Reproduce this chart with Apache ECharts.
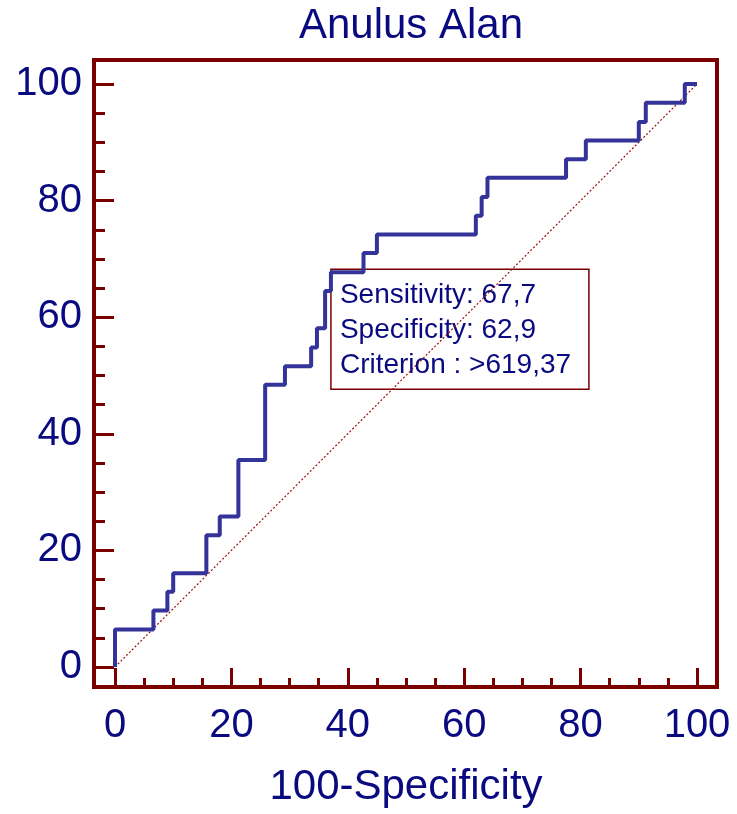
<!DOCTYPE html>
<html>
<head>
<meta charset="utf-8">
<script src="https://cdn.jsdelivr.net/npm/echarts@6/dist/echarts.min.js"></script>
<style>
html, body { margin: 0; padding: 0; background: #fff; }
#rocBox { width: 737px; height: 814px; }
</style>
</head>
<body>
<div id="rocBox"></div>
<script>
// ROC curve points (100-Specificity, Sensitivity), risers of each step
var fprData = [0, 0, 6.6, 9.0, 10.0, 15.7, 18.0, 21.2, 25.8, 29.2, 33.7, 34.7, 36.1, 37.1, 42.7, 45.0, 62.0, 63.0, 64.0, 77.5, 80.9, 90.0, 91.2, 97.9, 100];
var sensData = [0, 6.45, 9.68, 12.9, 16.1, 22.6, 25.8, 35.5, 48.4, 51.6, 54.8, 58.1, 64.5, 67.7, 71.0, 74.2, 77.4, 80.6, 83.9, 87.1, 90.3, 93.5, 96.8, 100, 100];
var refLine = [[0, 0], [100, 100]];
// optimal criterion
var critPoint = [37.1, 67.7];
var critText = ['Sensitivity: 67,7', 'Specificity: 62,9', 'Criterion : >619,37'];

var navy = '#0a0a80';
var maroon = '#7a0000';
var font = "'Liberation Sans', Arial, sans-serif";

var rocData = [];
for (var i = 0; i < fprData.length; i++) {
	rocData.push([fprData[i], sensData[i]]);
}

var myChart = echarts.init(document.getElementById('rocBox'));

var option = {
	animation : false,
	title : {
		text : 'Anulus Alan',
		left : 406,
		textAlign : 'center',
		top : 0,
		textStyle : { color : navy, fontSize : 42, fontWeight : 'normal', fontFamily : font }
	},
	grid : { left : 115, right : 40, top : 84, bottom : 147 },
	xAxis : {
		type : 'value', min : 0, max : 100, interval : 20, offset : 20,
		name : '100-Specificity', nameLocation : 'middle', nameGap : 79,
		nameTextStyle : { color : navy, fontSize : 42, fontFamily : font },
		axisLine : { show : false, onZero : false },
		axisTick : { show : true, inside : true, length : 19, lineStyle : { color : maroon, width : 3 } },
		minorTick : { show : true, splitNumber : 4, length : 9, lineStyle : { color : maroon, width : 3 } },
		axisLabel : { color : navy, fontSize : 40, fontFamily : font, margin : 19 },
		splitLine : { show : false }
	},
	yAxis : {
		type : 'value', min : 0, max : 100, interval : 20, offset : 21,
		axisLine : { show : false, onZero : false },
		axisTick : { show : true, inside : true, length : 20, lineStyle : { color : maroon, width : 3 } },
		minorTick : { show : true, splitNumber : 4, length : 11, lineStyle : { color : maroon, width : 3 } },
		axisLabel : { color : navy, fontSize : 40, fontFamily : font, margin : 12 },
		splitLine : { show : false }
	},
	series : [ {
		type : 'line',
		data : refLine,
		symbol : 'none',
		silent : true,
		lineStyle : { color : '#a01010', width : 1.2, type : [2, 2] }
	}, {
		type : 'line',
		data : rocData,
		step : 'end',
		symbol : 'none',
		lineStyle : { color : '#333399', width : 4 }
	} ]
};
myChart.setOption(option);

// frame around the plot and the criterion box anchored at the optimal point
var p = myChart.convertToPixel({ gridIndex : 0 }, critPoint);
myChart.setOption({
	graphic : [ {
		type : 'rect',
		shape : { x : 94, y : 60, width : 623, height : 627 },
		style : { fill : null, stroke : maroon, lineWidth : 4 },
		z : 10
	}, {
		type : 'group',
		x : p[0],
		y : p[1] - 3,
		z : 20,
		children : [ {
			type : 'rect',
			shape : { x : 0, y : 0, width : 258, height : 120 },
			style : { fill : '#fff', stroke : maroon, lineWidth : 1.5 }
		}, {
			type : 'text',
			x : 9, y : 8,
			style : {
				text : critText.join('\n'),
				fill : navy, fontSize : 28, lineHeight : 35, fontFamily : font
			}
		} ]
	} ]
});
</script>
</body>
</html>
